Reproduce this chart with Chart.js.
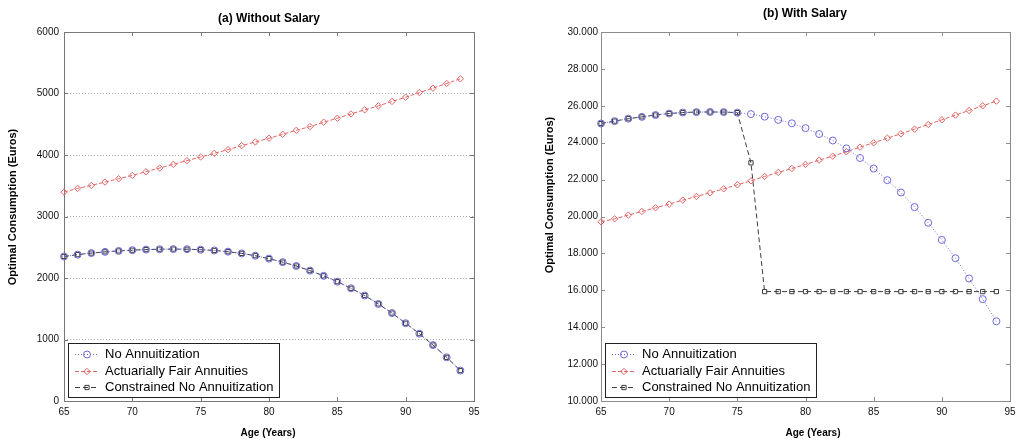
<!DOCTYPE html>
<html>
<head>
<meta charset="utf-8">
<script src="https://cdn.jsdelivr.net/npm/chart.js@4.4.0/dist/chart.umd.min.js"></script>
<style>
  html, body { margin: 0; padding: 0; background: #fff; overflow: hidden; width: 1016px; height: 441px; }
  #boxA { position: absolute; left: 0; top: 0; }
  #boxB { position: absolute; left: 537px; top: 0; }
</style>
</head>
<body>
<div id="boxA"><canvas id="chartA" width="537" height="441"></canvas></div>
<div id="boxB"><canvas id="chartB" width="503" height="441"></canvas></div>
<script>
// Ages on the x axis
const ages = [65, 66, 67, 68, 69, 70, 71, 72, 73, 74, 75, 76, 77, 78, 79,
              80, 81, 82, 83, 84, 85, 86, 87, 88, 89, 90, 91, 92, 93, 94];

// (a) Without Salary
const noAnnuitA = [2350, 2380, 2405, 2425, 2440, 2452, 2462, 2468, 2470, 2468, 2460, 2448, 2428, 2400, 2362,
                   2315, 2258, 2195, 2120, 2035, 1940, 1833, 1715, 1578, 1430, 1265, 1095, 910, 710, 495];
const fairA = [3397, 3457, 3505, 3560, 3614, 3668, 3728, 3788, 3848, 3908, 3967, 4027, 4087, 4152, 4212,
               4272, 4337, 4402, 4462, 4533, 4598, 4668, 4734, 4799, 4870, 4940, 5016, 5087, 5163, 5239];
const constrainedA = [2350, 2380, 2405, 2425, 2440, 2452, 2462, 2468, 2470, 2468, 2460, 2448, 2428, 2400, 2362,
                      2315, 2258, 2195, 2120, 2035, 1940, 1833, 1715, 1578, 1430, 1265, 1095, 910, 710, 495];

// (b) With Salary
const noAnnuitB = [25040, 25170, 25300, 25400, 25500, 25580, 25635, 25660, 25665, 25660, 25630, 25550, 25410, 25240, 25050,
                   24790, 24470, 24120, 23690, 23170, 22600, 21970, 21300, 20510, 19660, 18730, 17740, 16640, 15520, 14320];
const fairB = [19710, 19875, 20075, 20273, 20472, 20671, 20887, 21086, 21285, 21501, 21718, 21935, 22170, 22387, 22604,
               22820, 23055, 23272, 23507, 23760, 23995, 24248, 24483, 24736, 24988, 25241, 25494, 25747, 26000, 26253];
const constrainedB = [25040, 25170, 25300, 25400, 25500, 25580, 25635, 25660, 25665, 25660, 25630, 22910, 15930, 15930, 15930,
                      15930, 15930, 15930, 15930, 15930, 15930, 15930, 15930, 15930, 15930, 15930, 15930, 15930, 15930, 15930];

const seriesNames = ['No Annuitization', 'Actuarially Fair Annuities', 'Constrained No Annuitization'];

// Axis ranges / tick steps
const xTicks = [65, 70, 75, 80, 85, 90, 95];
const yTicksA = [0, 1000, 2000, 3000, 4000, 5000, 6000];
const yTicksB = [10000, 12000, 14000, 16000, 18000, 20000, 22000, 24000, 26000, 28000, 30000];

const FONT = '"Liberation Sans", Arial, sans-serif';
const BLUE = 'rgb(110,105,215)';
const RED = 'rgb(225,100,100)';
const GREY = 'rgb(60,60,60)';

function toPoints(values) {
    return ages.map((a, i) => ({ x: a, y: values[i] }));
}

function makeDatasets(noAnn, fair, constr) {
    const base = { borderWidth: 1, pointBorderWidth: 1, pointBackgroundColor: 'rgba(0,0,0,0)',
                   fill: false, tension: 0, clip: false };
    return [
        Object.assign({}, base, { label: seriesNames[0], data: toPoints(noAnn), borderColor: BLUE,
            pointBorderColor: BLUE, borderDash: [1, 2], pointStyle: 'circle', pointRadius: 3.5 }),
        Object.assign({}, base, { label: seriesNames[1], data: toPoints(fair), borderColor: RED,
            pointBorderColor: RED, borderDash: [4, 2], pointStyle: 'rectRot', pointRadius: 3.2 }),
        Object.assign({}, base, { label: seriesNames[2], data: toPoints(constr), borderColor: GREY,
            pointBorderColor: GREY, borderDash: [5, 3], pointStyle: 'rect', pointRadius: 3 })
    ];
}

// Box, inward tick marks, legend and titles in the old MATLAB look
const matlabPlugin = {
    id: 'matlab',
    beforeDatasetsDraw(chart, args, o) {
        const { ctx, chartArea: a, scales: { x, y } } = chart;
        ctx.save();
        ctx.strokeStyle = o.frameColor;
        ctx.lineWidth = 1;
        ctx.strokeRect(a.left + 0.5, a.top + 0.5, a.right - a.left, a.bottom - a.top);
        ctx.beginPath();
        x.ticks.forEach(t => {
            const px = Math.round(x.getPixelForValue(t.value)) + 0.5;
            ctx.moveTo(px, a.bottom); ctx.lineTo(px, a.bottom - 4);
            ctx.moveTo(px, a.top); ctx.lineTo(px, a.top + 4);
        });
        y.ticks.forEach(t => {
            const py = Math.round(y.getPixelForValue(t.value)) + 0.5;
            ctx.moveTo(a.left, py); ctx.lineTo(a.left + 4, py);
            ctx.moveTo(a.right, py); ctx.lineTo(a.right - 4, py);
        });
        ctx.stroke();
        ctx.restore();
    },
    afterDraw(chart, args, o) {
        const { ctx, chartArea: a } = chart;
        ctx.save();
        // legend
        const bw = 211, bh = 54;
        const bx = a.left + 4, by = a.bottom - 4 - bh;
        ctx.fillStyle = '#fff';
        ctx.fillRect(bx, by, bw, bh);
        ctx.strokeStyle = '#222';
        ctx.lineWidth = 1;
        ctx.strokeRect(bx + 0.5, by + 0.5, bw, bh);
        chart.data.datasets.forEach((ds, i) => {
            const cy = Math.round(by + 11 + i * 16.6) + 0.5;
            ctx.strokeStyle = ds.borderColor;
            ctx.setLineDash(ds.borderDash);
            ctx.beginPath();
            ctx.moveTo(bx + 7, cy); ctx.lineTo(bx + 31, cy);
            ctx.stroke();
            ctx.setLineDash([]);
            ctx.fillStyle = 'rgba(0,0,0,0)';
            Chart.helpers.drawPoint(ctx, { pointStyle: ds.pointStyle, radius: ds.pointRadius,
                                           borderWidth: 1, rotation: 0 }, bx + 19, cy);
            ctx.fillStyle = '#000';
            ctx.font = '13px ' + FONT;
            ctx.textBaseline = 'middle';
            ctx.textAlign = 'left';
            ctx.fillText(ds.label, bx + 37, cy);
        });
        // titles
        ctx.fillStyle = '#000';
        ctx.textAlign = 'center';
        ctx.textBaseline = 'middle';
        ctx.font = 'bold 12px ' + FONT;
        ctx.fillText(o.title, o.titleX, o.titleY);
        ctx.font = 'bold 10px ' + FONT;
        ctx.fillText('Age (Years)', o.xTitleX, 433);
        ctx.translate(13, o.yTitleY);
        ctx.rotate(-Math.PI / 2);
        ctx.font = 'bold 11px ' + FONT;
        ctx.fillText('Optimal Consumption (Euros)', 0, 0);
        ctx.restore();
    }
};

function makeChart(id, datasets, yTicks, fmt, rightPad, yLabelPad, grid, pluginOpts) {
    return new Chart(document.getElementById(id), {
        type: 'line',
        data: { datasets: datasets },
        plugins: [matlabPlugin],
        options: {
            responsive: false,
            animation: false,
            devicePixelRatio: 1,
            layout: { padding: { left: 0, right: rightPad, top: 32, bottom: 0 } },
            plugins: {
                legend: { display: false },
                title: { display: false },
                tooltip: { enabled: false },
                matlab: pluginOpts
            },
            scales: {
                x: {
                    type: 'linear',
                    min: xTicks[0],
                    max: xTicks[xTicks.length - 1],
                    afterFit: s => { s.height = 40; },
                    afterBuildTicks: s => { s.ticks = xTicks.map(v => ({ value: v })); },
                    ticks: { padding: 5, color: '#111', font: { family: FONT, size: 10 } },
                    grid: { display: false, drawTicks: false },
                    border: { display: false }
                },
                y: {
                    min: yTicks[0],
                    max: yTicks[yTicks.length - 1],
                    afterFit: s => { s.width = 64; },
                    afterBuildTicks: s => { s.ticks = yTicks.map(v => ({ value: v })); },
                    ticks: { padding: yLabelPad, color: '#111', font: { family: FONT, size: 10 },
                             callback: fmt },
                    grid: {
                        display: grid,
                        drawTicks: false,
                        color: c => (c.tick && (c.tick.value === yTicks[0] || c.tick.value === yTicks[yTicks.length - 1]))
                            ? 'rgba(0,0,0,0)' : 'rgb(170,170,170)'
                    },
                    border: { display: false, dash: [1, 2] }
                }
            }
        }
    });
}

makeChart('chartA', makeDatasets(noAnnuitA, fairA, constrainedA), yTicksA,
    v => String(v), 63, 5, true,
    { title: '(a) Without Salary', titleX: 269, titleY: 19, xTitleX: 268, yTitleY: 207, frameColor: 'rgb(120,120,120)' });

makeChart('chartB', makeDatasets(noAnnuitB, fairB, constrainedB), yTicksB,
    v => (v / 1000).toFixed(3), 30, 3, false,
    { title: '(b) With Salary', titleX: 268, titleY: 14, xTitleX: 276, yTitleY: 195, frameColor: 'rgb(140,140,140)' });
</script>
</body>
</html>
